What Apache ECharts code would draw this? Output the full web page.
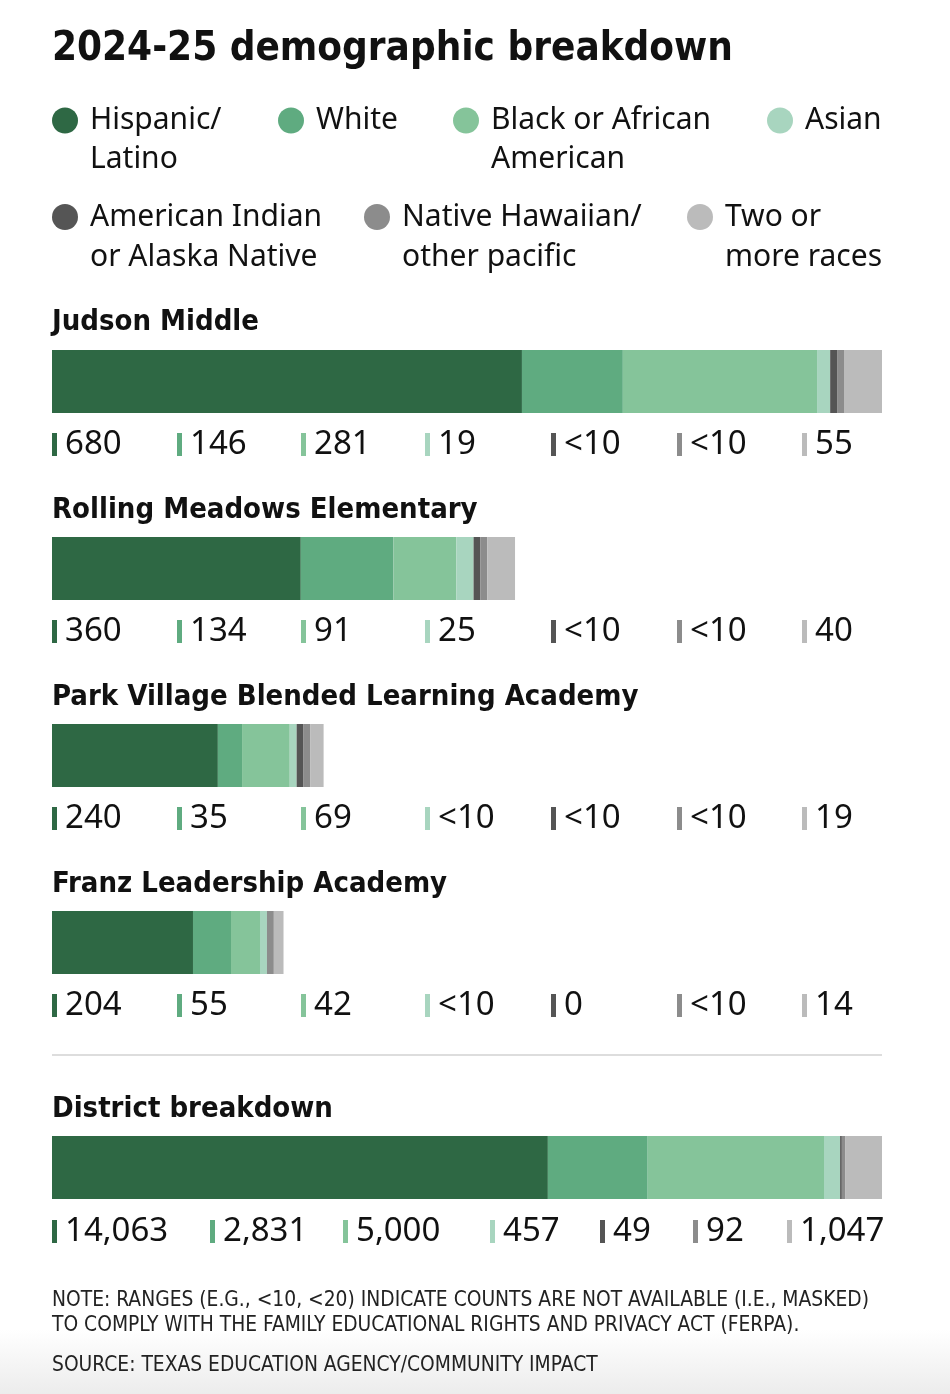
<!DOCTYPE html>
<html>
<head>
<meta charset="utf-8">
<script src="https://cdn.jsdelivr.net/npm/echarts@6/dist/echarts.min.js"></script>
<style>
  html, body { margin: 0; padding: 0; background: #fff; }
  #chart { width: 950px; height: 1394px; }
</style>
</head>
<body>
<div id="chart"></div>
<script>
// 类别与颜色
var races = ['Hispanic/\nLatino', 'White', 'Black or African\nAmerican', 'Asian',
  'American Indian\nor Alaska Native', 'Native Hawaiian/\nother pacific', 'Two or\nmore races'];
var raceColors = ['#2e6844', '#5fab80', '#85c49a', '#a8d5bf', '#555555', '#8c8c8c', '#bbbbbb'];

var schools = ['Judson Middle', 'Rolling Meadows Elementary',
  'Park Village Blended Learning Academy', 'Franz Leadership Academy', 'District breakdown'];

// 每个学校的人数 ('<10' 表示被屏蔽的数据)
var judson = [680, 146, 281, 19, '<10', '<10', 55];
var rollingMeadows = [360, 134, 91, 25, '<10', '<10', 40];
var parkVillage = [240, 35, 69, '<10', '<10', '<10', 19];
var franz = [204, 55, 42, '<10', 0, '<10', 14];
var district = [14063, 2831, 5000, 457, 49, 92, 1047];

var MASKED_WIDTH = 10; // 屏蔽值在图上的估计宽度

var rows = [judson, rollingMeadows, parkVillage, franz, district];

var FONT = '"Noto Sans", sans-serif';
var NARROW = '"DejaVu Sans Condensed", "Noto Sans", sans-serif';

var barLeft = 52, barWidth = 830, barHeight = 63;
var barTops = [350, 537, 724, 911, 1136];
var headY = [321, 509, 696, 883, 1108];
var labelY = [444, 631, 818, 1005, 1231];
var schoolCols = [52, 177, 301, 425, 551, 677, 802];
var districtCols = [52, 210, 343, 490, 600, 693, 787];

function drawnValue(v) {
  return v === '<10' ? MASKED_WIDTH : v;
}
function labelText(v) {
  return typeof v === 'number' ? v.toLocaleString('en-US') : v;
}
function sum(arr) {
  return arr.reduce(function (a, v) { return a + drawnValue(v); }, 0);
}

// 学校共用一个比例尺, 学区单独一个
var schoolMax = Math.max(sum(judson), sum(rollingMeadows), sum(parkVillage), sum(franz));
var districtMax = sum(district);

var grids = [], xAxes = [], yAxes = [], series = [], graphics = [];

rows.forEach(function (row, b) {
  grids.push({ left: barLeft, top: barTops[b], width: barWidth, height: barHeight });
  xAxes.push({ type: 'value', gridIndex: b, min: 0, max: b === 4 ? districtMax : schoolMax, show: false });
  yAxes.push({ type: 'category', gridIndex: b, data: [schools[b]], show: false });
  row.forEach(function (v, r) {
    series.push({
      type: 'bar',
      name: races[r],
      stack: 'bar' + b,
      xAxisIndex: b,
      yAxisIndex: b,
      barWidth: '100%',
      silent: true,
      itemStyle: { color: raceColors[r] },
      data: [drawnValue(v)]
    });
  });

  // 标题
  graphics.push({
    type: 'text', x: barLeft, y: headY[b] + 1,
    style: { text: schools[b], font: 'bold 29px ' + NARROW, fill: '#111', verticalAlign: 'middle' }
  });

  // 数值标签
  var cols = b === 4 ? districtCols : schoolCols;
  row.forEach(function (v, r) {
    graphics.push({
      type: 'rect', shape: { x: cols[r], y: labelY[b] - 11, width: 5, height: 23 },
      style: { fill: raceColors[r] }
    });
    graphics.push({
      type: 'text', x: cols[r] + 13, y: labelY[b] + 1,
      style: { text: labelText(v), font: '33px ' + FONT, fill: '#111', verticalAlign: 'middle' }
    });
  });
});

// 图例位置 (自定义布局), 文字三行: 空行 + 两行名称, 使圆点对齐第一行
var legendPos = [[52, 62], [278, 62], [453, 62], [767, 62], [52, 157], [364, 157], [687, 157]];
var legends = legendPos.map(function (p, i) {
  return {
    data: [races[i]],
    left: p[0], top: p[1],
    icon: 'circle',
    itemWidth: 26, itemHeight: 26,
    selectedMode: false,
    padding: 0,
    formatter: function (name) {
      var parts = name.split('\n');
      return ' \n' + parts[0] + '\n' + (parts[1] || ' ');
    },
    textStyle: { fontFamily: FONT, fontSize: 30, lineHeight: i < 4 ? 39 : 40, color: '#111', padding: [0, 0, 0, 7] }
  };
});

graphics.push({
  type: 'text', x: 52, y: 50,
  style: { text: '2024-25 demographic breakdown', font: 'bold 40px ' + NARROW, fill: '#111', verticalAlign: 'middle' }
});
graphics.push({
  type: 'line', shape: { x1: 52, y1: 1055, x2: 882, y2: 1055 },
  style: { stroke: '#dddddd', lineWidth: 2 }
});
graphics.push({
  type: 'rect', z: -10, shape: { x: 0, y: 1330, width: 950, height: 64 },
  style: { fill: new echarts.graphic.LinearGradient(0, 0, 0, 1, [
    { offset: 0, color: '#ffffff' }, { offset: 1, color: '#ececec' }]) }
});
graphics.push({
  type: 'text', left: 52, top: 1288,
  style: {
    text: 'NOTE: RANGES (E.G., <10, <20) INDICATE COUNTS ARE NOT AVAILABLE (I.E., MASKED)\nTO COMPLY WITH THE FAMILY EDUCATIONAL RIGHTS AND PRIVACY ACT (FERPA).',
    font: '20.8px ' + NARROW, lineHeight: 25, fill: '#222'
  }
});
graphics.push({
  type: 'text', left: 52, top: 1355,
  style: { text: 'SOURCE: TEXAS EDUCATION AGENCY/COMMUNITY IMPACT', font: '20.8px ' + NARROW, fill: '#222' }
});

var myChart = echarts.init(document.getElementById('chart'));
myChart.setOption({
  backgroundColor: '#fff',
  animation: false,
  legend: legends,
  grid: grids,
  xAxis: xAxes,
  yAxis: yAxes,
  series: series,
  graphic: graphics
});
</script>
</body>
</html>
